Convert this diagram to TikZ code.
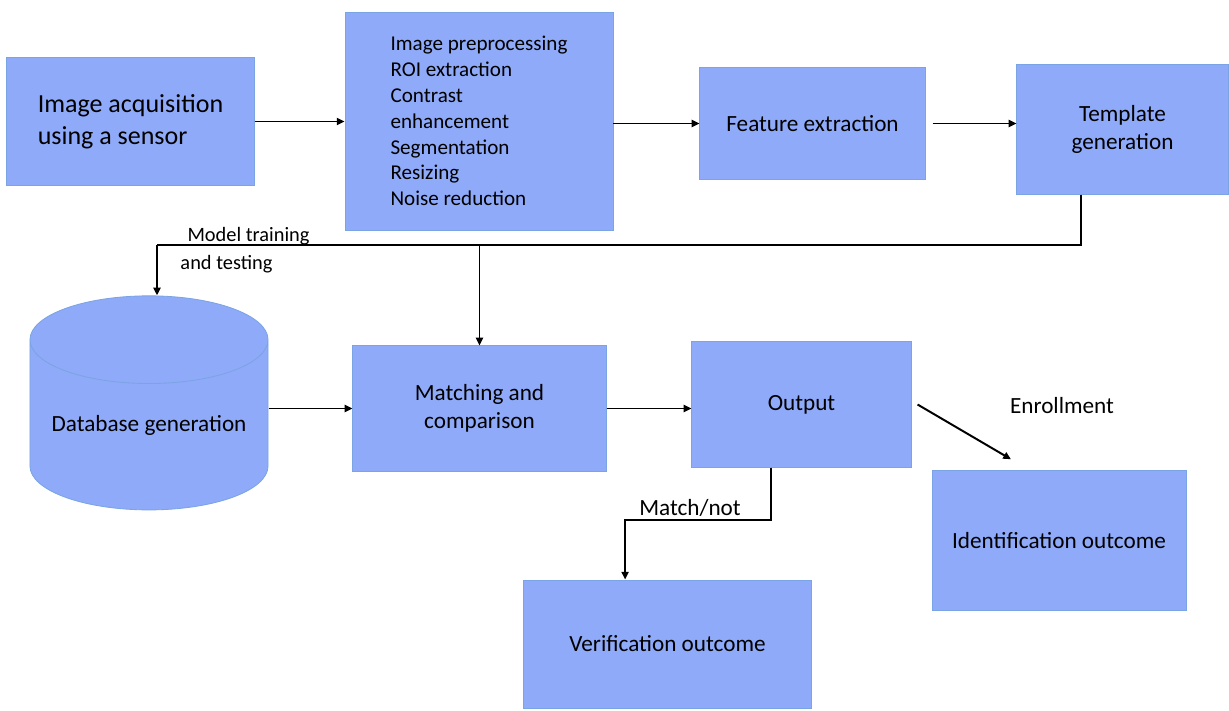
\documentclass[tikz,border=0pt]{standalone}
\usepackage{fontspec}
\setmainfont{Carlito}
\usepackage{tikz}
\usetikzlibrary{arrows.meta,shapes.geometric}
\definecolor{boxfill}{RGB}{143,170,249}
\definecolor{boxline}{RGB}{122,164,228}

\begin{document}
\begin{tikzpicture}[
  x=0.025cm, y=-0.025cm,
  font=\fontsize{16.5}{20}\selectfont,
  >={Triangle[length=5.5pt, width=5pt]},
  blk/.style={draw=boxline, fill=boxfill, line width=0.6pt,
              align=center, inner sep=0pt},
  dbase/.style={blk, cylinder, shape border rotate=90, aspect=0.45},
  flow/.style={->, line width=1.4pt},
  link/.style={line width=1.4pt},
  lbl/.style={inner sep=1pt, align=left}
]
\useasboundingbox (0,0) rectangle (1229,710);

\node[blk, minimum width=6.18cm, minimum height=3.18cm, font=\fontsize{18.5}{23}\selectfont, align=left] (acq) at (130.5,121.5) {Image acquisition\\using a sensor};
\node[blk, minimum width=6.70cm, minimum height=5.45cm, font=\fontsize{15}{18.4}\selectfont, align=left] (prep) at (479,121) {Image preprocessing\\ROI extraction\\Contrast\\enhancement\\Segmentation\\Resizing\\Noise reduction};
\node[blk, minimum width=5.63cm, minimum height=2.78cm] (feat)  at (812.5,123.5) {Feature extraction};
\node[blk, minimum width=5.28cm, minimum height=3.23cm] (templ) at (1122.5,129.5) {Template\\generation};

\node[dbase, minimum width=5.95cm, minimum height=5.35cm] (db) at (149,425) {Database generation};
\node[blk, minimum width=6.33cm, minimum height=3.13cm] (match) at (479.5,408.5) {Matching and\\comparison};
\node[blk, minimum width=5.48cm, minimum height=3.13cm] (out)   at (801.5,404.5) {Output};
\node[blk, minimum width=7.18cm, minimum height=3.20cm] (verif) at (667.5,644) {Verification outcome};
\node[blk, minimum width=6.35cm, minimum height=3.48cm] (ident) at (1059,540.5) {Identification outcome};

% labels
\node[lbl, font=\fontsize{14.5}{20}\selectfont] (train) at (245,250) {\hspace{5pt}Model training\\and testing};
\node[lbl] (enrl) at (1062,406) {Enrollment};
\node[lbl] (mnot) at (690,508) {Match/not};

% main chain
\draw[flow] (acq.east) -- (acq.east -| prep.west);
\draw[flow] (prep.east |- feat.west) -- (feat.west);
\draw[flow, shorten <=5pt] (feat.east) -- (feat.east -| templ.west);

% template back to database and matcher
\coordinate (bus)  at (1081,245);
\coordinate (busl) at (157,245);
\draw[link] (templ.south -| bus) -- (bus) -- (busl);
\draw[flow] (busl) -- (busl |- db.north);
\draw[flow] (match.north |- bus) -- (match.north);

\draw[flow] (match.west -| db.east) -- (match.west);
\draw[flow] (match.east) -- (match.east -| out.west);

% outcomes
\coordinate (mn) at (771,520);
\draw[flow] (out.south -| mn) -- (mn) -| ([xshift=-1.06cm]verif.north);
\draw[flow] ([xshift=0.15cm]out.east) -- ([xshift=-1.2cm, yshift=0.28cm]ident.north);
\end{tikzpicture}
\end{document}
